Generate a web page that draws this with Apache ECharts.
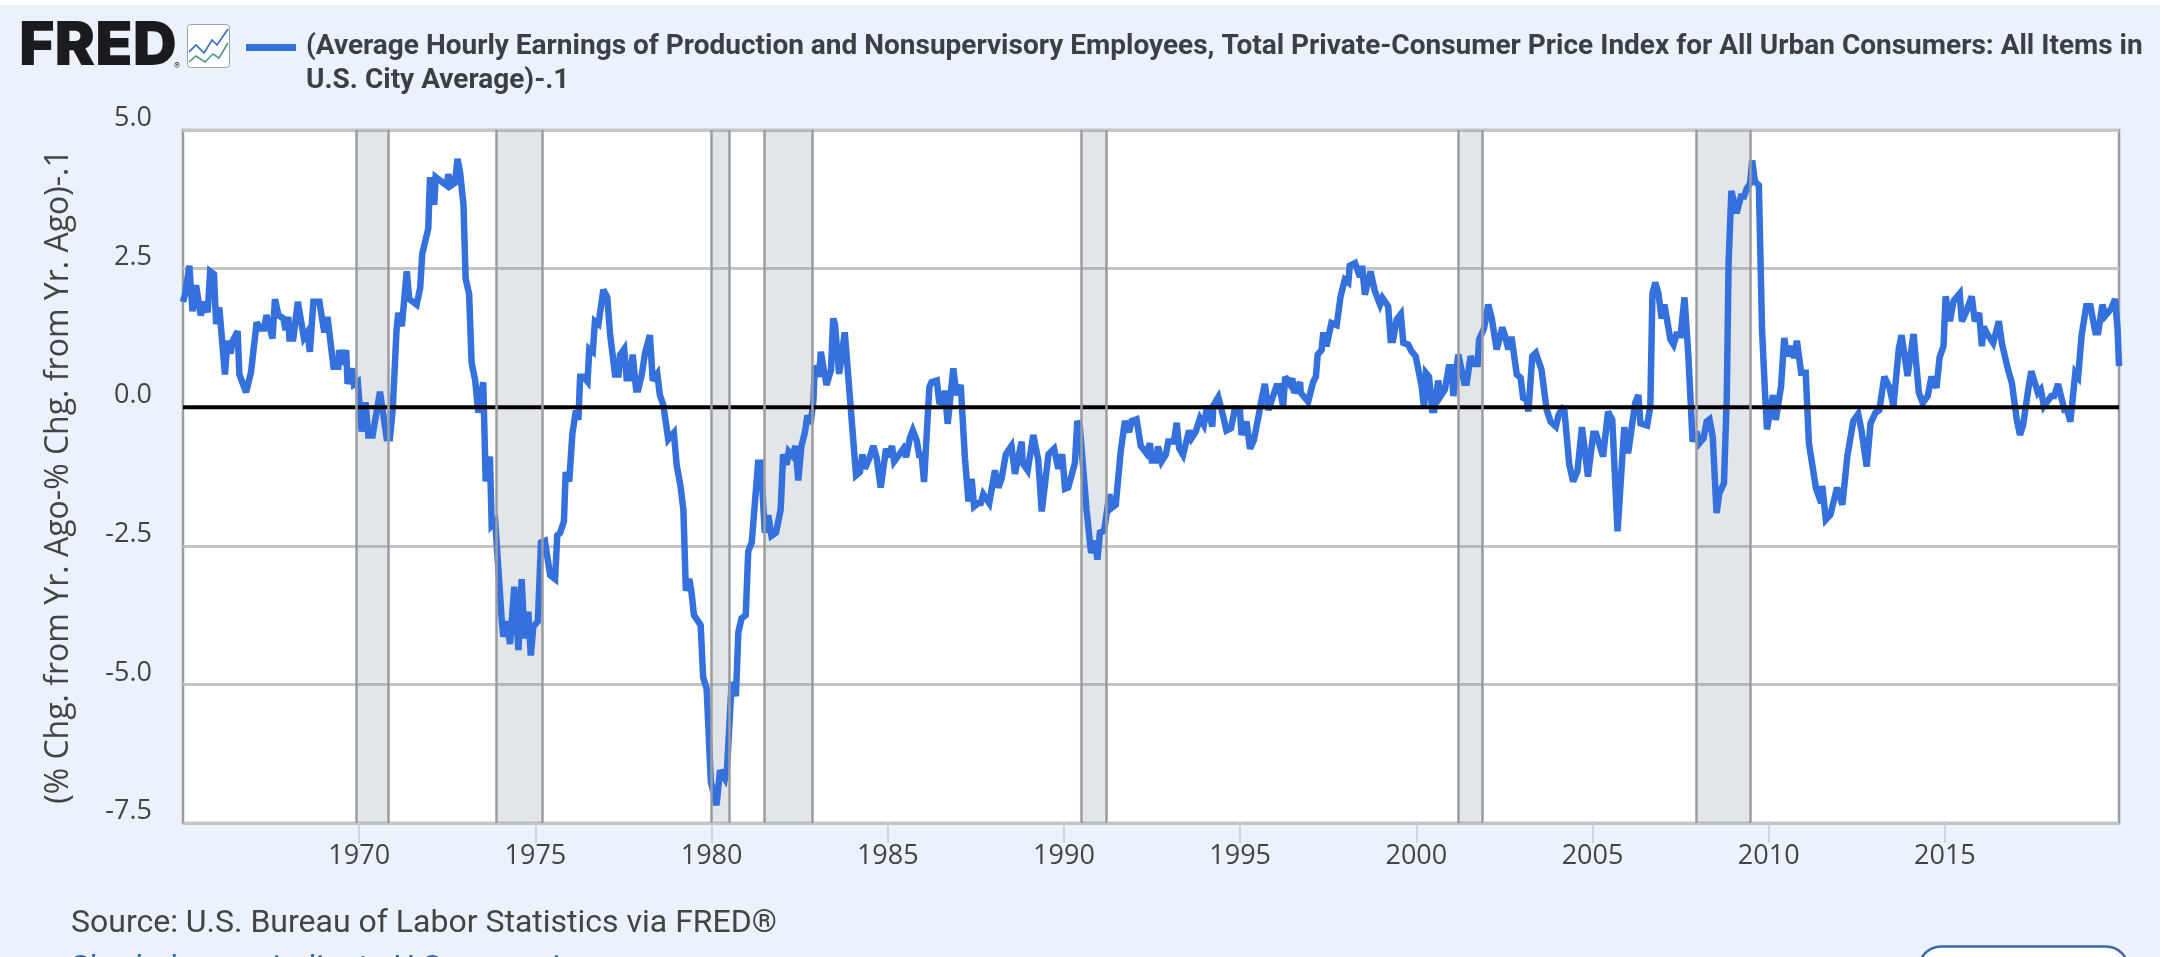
<!DOCTYPE html>
<html>
<head>
<meta charset="utf-8">
<title>Real earnings growth gap</title>
<script src="https://cdn.jsdelivr.net/npm/echarts@6/dist/echarts.min.js"></script>
<style>
html,body{margin:0;padding:0;background:#ebf2fb;overflow:hidden}
#chart{width:2160px;height:957px}
</style>
</head>
<body>
<div id="chart"></div>
<script>
// Wage growth minus CPI growth, minus 0.1, as [decimal year, percentage points]
const gap1960s = [[1965.0,1.9],[1965.06,2.04],[1965.18,2.55],[1965.27,1.73],[1965.37,2.2],[1965.5,1.66],[1965.62,1.9],[1965.7,1.71],[1965.77,2.45],[1965.88,2.4],[1965.94,1.5],[1966.03,1.8],[1966.19,0.59],[1966.26,1.2],[1966.35,0.97],[1966.41,1.2],[1966.55,1.37],[1966.6,0.59],[1966.79,0.27],[1966.93,0.63],[1967.09,1.53],[1967.2,1.42],[1967.3,1.42],[1967.37,1.66],[1967.54,1.24],[1967.61,1.95],[1967.71,1.66],[1967.85,1.6],[1967.91,1.39],[1967.99,1.63],[1968.02,1.24],[1968.13,1.24],[1968.26,1.9],[1968.43,1.25],[1968.53,1.35],[1968.6,1.0],[1968.7,1.9],[1968.87,1.9],[1969.01,1.35],[1969.1,1.63],[1969.15,1.6],[1969.27,0.73],[1969.41,0.73],[1969.43,1.03],[1969.53,0.77],[1969.63,1.03],[1969.67,0.42],[1969.79,0.7],[1969.85,0.41],[1969.96,0.46]];
const gap1970s = [[1970.07,-0.44],[1970.18,0.09],[1970.26,-0.51],[1970.38,-0.51],[1970.59,0.28],[1970.78,-0.56],[1970.87,-0.56],[1970.95,-0.06],[1971.06,1.39],[1971.11,1.7],[1971.21,1.46],[1971.35,2.45],[1971.42,1.95],[1971.63,1.85],[1971.73,2.15],[1971.79,2.77],[1971.96,3.22],[1972.01,4.15],[1972.13,3.65],[1972.17,4.15],[1972.48,4.0],[1972.53,4.2],[1972.61,4.0],[1972.72,4.05],[1972.79,4.48],[1972.86,4.25],[1972.96,3.65],[1973.02,2.32],[1973.12,2.04],[1973.19,0.8],[1973.29,0.49],[1973.38,-0.1],[1973.52,0.45],[1973.59,-1.34],[1973.71,-0.89],[1973.76,-2.13],[1973.86,-2.06],[1974.04,-3.79],[1974.09,-4.14],[1974.19,-3.86],[1974.28,-4.27],[1974.4,-3.24],[1974.52,-4.38],[1974.61,-3.1],[1974.69,-4.17],[1974.8,-3.69],[1974.87,-4.48],[1974.94,-3.96],[1975.07,-3.86],[1975.16,-2.44],[1975.27,-2.41],[1975.42,-3.03],[1975.56,-3.1],[1975.62,-2.31],[1975.7,-2.27],[1975.81,-2.06],[1975.86,-1.17],[1975.96,-1.34],[1976.05,-0.48],[1976.15,-0.06],[1976.22,-0.23],[1976.27,0.55],[1976.36,0.55],[1976.48,0.46],[1976.53,1.05],[1976.63,1.0],[1976.69,1.55],[1976.79,1.5],[1976.93,2.12],[1977.04,1.98],[1977.12,1.32],[1977.26,0.59],[1977.36,0.59],[1977.4,0.94],[1977.52,1.05],[1977.59,0.52],[1977.69,0.52],[1977.76,0.95],[1977.86,0.32],[1977.92,0.32],[1978.02,0.59],[1978.11,0.97],[1978.25,1.3],[1978.33,0.48],[1978.46,0.6],[1978.53,0.23],[1978.63,0.04],[1978.77,-0.58],[1978.93,-0.46],[1979.01,-1.05],[1979.12,-1.43],[1979.2,-1.85],[1979.27,-3.31],[1979.37,-3.1],[1979.43,-3.34],[1979.5,-3.75],[1979.69,-3.93],[1979.76,-4.87],[1979.86,-5.08],[1979.98,-6.76]];
const gap1980s = [[1980.14,-7.18],[1980.24,-6.55],[1980.38,-6.7],[1980.44,-6.5],[1980.57,-4.96],[1980.69,-5.21],[1980.76,-4.06],[1980.85,-3.81],[1980.97,-3.75],[1981.04,-2.6],[1981.14,-2.44],[1981.32,-1.0],[1981.4,-1.0],[1981.51,-2.26],[1981.61,-1.95],[1981.7,-2.32],[1981.83,-2.26],[1981.96,-1.85],[1982.03,-0.85],[1982.13,-1.04],[1982.19,-0.8],[1982.3,-0.88],[1982.38,-0.7],[1982.46,-1.32],[1982.55,-0.7],[1982.65,-0.45],[1982.72,-0.15],[1982.81,-0.3],[1982.89,0.11],[1982.93,0.75],[1983.05,0.55],[1983.1,1.0],[1983.26,0.4],[1983.39,0.67],[1983.45,1.6],[1983.5,1.5],[1983.62,0.6],[1983.78,1.35],[1983.93,0.14],[1984.1,-1.23],[1984.21,-1.17],[1984.28,-0.85],[1984.35,-1.11],[1984.49,-0.9],[1984.59,-0.7],[1984.68,-0.9],[1984.8,-1.45],[1984.95,-0.75],[1985.02,-0.9],[1985.12,-0.7],[1985.18,-0.98],[1985.44,-0.75],[1985.52,-0.9],[1985.63,-0.55],[1985.71,-0.42],[1985.82,-0.6],[1985.89,-0.86],[1985.96,-0.86],[1986.03,-1.35],[1986.18,0.36],[1986.24,0.45],[1986.39,0.48],[1986.46,0.1],[1986.58,0.08],[1986.62,0.3],[1986.7,-0.3],[1986.86,0.7],[1986.95,0.22],[1987.07,0.4],[1987.19,-0.92],[1987.29,-1.7],[1987.38,-1.29],[1987.45,-1.79],[1987.57,-1.73],[1987.64,-1.73],[1987.71,-1.57],[1987.88,-1.73],[1988.04,-1.14],[1988.14,-1.45],[1988.23,-1.29],[1988.35,-0.85],[1988.51,-0.7],[1988.61,-1.2],[1988.8,-0.62],[1988.83,-1.01],[1988.97,-1.14],[1989.13,-0.5],[1989.27,-0.95],[1989.37,-1.88],[1989.56,-0.85],[1989.72,-0.75],[1989.84,-1.11],[1989.95,-0.85]];
const gap1990s = [[1990.03,-1.47],[1990.12,-1.45],[1990.31,-1.01],[1990.38,-0.25],[1990.45,-0.35],[1990.64,-1.85],[1990.77,-2.63],[1990.88,-2.41],[1990.95,-2.75],[1991.02,-2.26],[1991.14,-2.23],[1991.29,-1.57],[1991.35,-1.82],[1991.47,-1.76],[1991.61,-0.8],[1991.73,-0.25],[1991.85,-0.45],[1991.92,-0.25],[1992.06,-0.22],[1992.18,-0.7],[1992.34,-0.83],[1992.44,-0.65],[1992.49,-0.96],[1992.61,-0.96],[1992.67,-0.71],[1992.77,-0.98],[1992.89,-0.86],[1992.96,-0.62],[1993.12,-0.62],[1993.2,-0.28],[1993.27,-0.74],[1993.38,-0.86],[1993.55,-0.42],[1993.62,-0.56],[1993.74,-0.44],[1993.86,-0.2],[1993.97,-0.32],[1994.07,0.03],[1994.21,-0.35],[1994.24,0.03],[1994.38,0.18],[1994.52,-0.17],[1994.61,-0.42],[1994.74,-0.38],[1994.85,-0.03],[1994.99,-0.03],[1995.04,-0.5],[1995.18,-0.26],[1995.28,-0.75],[1995.39,-0.59],[1995.51,-0.2],[1995.61,0.14],[1995.7,0.42],[1995.8,-0.05],[1996.03,0.38],[1996.11,0.38],[1996.22,0.02],[1996.28,0.55],[1996.41,0.42],[1996.48,0.52],[1996.53,0.26],[1996.7,0.45],[1996.72,0.26],[1996.93,0.1],[1997.07,0.45],[1997.15,0.55],[1997.2,0.95],[1997.31,1.03],[1997.36,1.35],[1997.45,1.1],[1997.59,1.52],[1997.74,1.48],[1997.85,2.0],[1997.97,2.3],[1998.07,2.25],[1998.11,2.55],[1998.26,2.6],[1998.4,2.35],[1998.46,2.55],[1998.54,2.03],[1998.7,2.45],[1998.82,2.1],[1998.97,1.85],[1999.04,1.97],[1999.2,1.82],[1999.27,1.21],[1999.34,1.21],[1999.44,1.58],[1999.56,1.68],[1999.63,1.16],[1999.77,1.13],[1999.86,1.01],[1999.98,0.92]];
const gap2000s = [[2000.15,0.38],[2000.22,-0.02],[2000.27,0.62],[2000.36,0.55],[2000.45,-0.05],[2000.51,-0.05],[2000.62,0.48],[2000.69,0.2],[2000.81,0.32],[2000.92,0.72],[2001.0,0.72],[2001.05,0.2],[2001.1,0.2],[2001.19,0.95],[2001.36,0.44],[2001.43,0.44],[2001.54,0.92],[2001.62,0.78],[2001.74,0.78],[2001.78,1.22],[2001.92,1.42],[2002.04,1.85],[2002.14,1.6],[2002.28,1.04],[2002.33,1.04],[2002.44,1.44],[2002.51,1.3],[2002.61,1.04],[2002.7,1.27],[2002.85,0.59],[2002.96,0.53],[2003.03,0.17],[2003.13,0.14],[2003.18,-0.08],[2003.22,-0.08],[2003.29,0.92],[2003.39,0.98],[2003.55,0.68],[2003.7,-0.05],[2003.81,-0.26],[2003.96,-0.35],[2004.04,-0.13],[2004.19,0.02],[2004.34,-1.04],[2004.45,-1.34],[2004.57,-1.16],[2004.7,-0.36],[2004.87,-1.25],[2005.02,-0.48],[2005.1,-0.48],[2005.3,-0.89],[2005.44,-0.08],[2005.56,-0.23],[2005.71,-2.24],[2005.9,-0.36],[2006.01,-0.83],[2006.21,0.08],[2006.3,0.22],[2006.36,-0.29],[2006.55,-0.33],[2006.64,0.02],[2006.7,2.05],[2006.78,2.25],[2006.87,2.05],[2006.96,1.6],[2007.04,1.85],[2007.21,1.22],[2007.3,1.13],[2007.38,1.31],[2007.5,1.3],[2007.61,1.98],[2007.72,0.92],[2007.84,-0.62],[2007.95,-0.44],[2008.03,-0.65],[2008.15,-0.56],[2008.24,-0.26],[2008.32,-0.22],[2008.41,-0.53],[2008.52,-1.91],[2008.6,-1.55],[2008.73,-1.37],[2008.81,0.2],[2008.86,2.6],[2008.94,3.9],[2009.09,3.5],[2009.21,3.8],[2009.3,3.8],[2009.38,3.95],[2009.47,4.03],[2009.53,4.45],[2009.61,4.07],[2009.72,4.0],[2009.81,1.4],[2009.89,0.32],[2009.95,-0.4]];
const gap2010s = [[2010.12,0.22],[2010.2,-0.23],[2010.35,0.38],[2010.44,1.25],[2010.52,0.92],[2010.63,1.1],[2010.72,0.89],[2010.8,1.2],[2010.92,0.62],[2011.05,0.62],[2011.14,-0.65],[2011.34,-1.46],[2011.49,-1.73],[2011.52,-1.42],[2011.62,-2.03],[2011.75,-1.94],[2011.94,-1.45],[2012.09,-1.76],[2012.23,-0.89],[2012.4,-0.25],[2012.54,-0.12],[2012.63,-0.41],[2012.78,-1.07],[2012.89,-0.29],[2013.03,-0.1],[2013.14,-0.05],[2013.28,0.55],[2013.43,0.35],[2013.54,0.02],[2013.69,1.05],[2013.77,1.3],[2013.94,0.56],[2014.11,1.32],[2014.26,0.26],[2014.37,0.08],[2014.51,0.2],[2014.62,0.55],[2014.76,0.35],[2014.85,0.9],[2014.96,1.1],[2015.02,2.0],[2015.14,1.55],[2015.25,1.92],[2015.42,2.05],[2015.48,1.55],[2015.59,1.7],[2015.76,2.0],[2015.85,1.55],[2015.97,1.7],[2016.05,1.1],[2016.1,1.45],[2016.22,1.3],[2016.37,1.16],[2016.53,1.55],[2016.62,1.14],[2016.79,0.68],[2016.9,0.44],[2017.04,-0.23],[2017.13,-0.5],[2017.22,-0.32],[2017.36,0.3],[2017.45,0.65],[2017.64,0.26],[2017.72,0.32],[2017.81,0.02],[2018.02,0.2],[2018.1,0.2],[2018.21,0.42],[2018.39,-0.05],[2018.47,-0.05],[2018.56,-0.26],[2018.7,0.62],[2018.78,0.55],[2018.88,1.3],[2019.01,1.82],[2019.13,1.82],[2019.27,1.35],[2019.35,1.35],[2019.47,1.85],[2019.55,1.65],[2019.72,1.78],[2019.83,1.95],[2019.9,1.4],[2019.94,0.74]];

// NBER recession spans, start and end in decimal years
const recessions = [[1969.92,1970.83],[1973.88,1975.2],[1980.0,1980.5],[1981.5,1982.87],[1990.5,1991.2],[2001.2,2001.87],[2007.95,2009.48]];
const yearTicks = [1970,1975,1980,1985,1990,1995,2000,2005,2010,2015];
const zeroLine = [[1965,0],[2019.94,0]];

const legendLines = ['(Average Hourly Earnings of Production and Nonsupervisory Employees, Total Private-Consumer Price Index for All Urban Consumers: All Items in','U.S. City Average)-.1'];
const yAxisTitle = '(% Chg. from Yr. Ago-% Chg. from Yr. Ago)-.1';
const sourceText = 'Source: U.S. Bureau of Labor Statistics via FRED®';
const noteText = 'Shaded areas indicate U.S. recessions';

const LINE_BLUE = '#3571dd';
const chart = echarts.init(document.getElementById('chart'), null, {renderer:'canvas'});
chart.setOption({
  animation:false,
  backgroundColor:'#ebf2fb',
  grid:{left:183,right:41,top:130,bottom:134,show:true,backgroundColor:'#fff',borderColor:'#9c9c9f',borderWidth:2.5},
  xAxis:{
    type:'value',min:1965,max:2019.94,
    axisLine:{show:false,onZero:false},
    axisTick:{show:true,length:20,lineStyle:{color:'#cfd5e0',width:2},customValues:yearTicks},
    axisLabel:{customValues:yearTicks,formatter:v=>String(v),color:'#444',fontFamily:'Open Sans',fontSize:27,margin:20},
    splitLine:{show:false}
  },
  yAxis:{
    type:'value',min:-7.5,max:5,interval:2.5,
    name:yAxisTitle,nameLocation:'middle',nameGap:108,nameRotate:90,
    nameTextStyle:{color:'#444',fontFamily:'Open Sans',fontSize:32},
    axisLine:{show:false},axisTick:{show:false},
    axisLabel:{formatter:v=>v.toFixed(1),color:'#444',fontFamily:'Open Sans',fontSize:27,margin:31,verticalAlign:'bottom',lineHeight:23},
    splitLine:{show:true,lineStyle:{color:'#c4c4c4',width:3}}
  },
  series:[
    {type:'line',name:'Recessions',data:[],z:1,silent:true,
     markArea:{silent:true,itemStyle:{color:'rgba(135,145,165,0.24)'},
       data:recessions.map(r=>[{xAxis:r[0]},{xAxis:r[1]}])},
     markLine:{silent:true,symbol:'none',label:{show:false},
       lineStyle:{color:'#9c9c9f',width:2.5,type:'solid'},
       data:recessions.flat().map(edge=>({xAxis:edge}))}},
    {type:'line',name:'Real earnings gap',
     data:[].concat(gap1960s,gap1970s,gap1980s,gap1990s,gap2000s,gap2010s),
     showSymbol:false,z:3,
     lineStyle:{color:LINE_BLUE,width:6.5,join:'miter',miterLimit:3}},
    {type:'line',name:'Zero',data:zeroLine,showSymbol:false,z:4,lineStyle:{color:'#000',width:4}}
  ],
  graphic:[
    {type:'rect',shape:{x:0,y:0,width:2160,height:5},style:{fill:'#fff'},silent:true},
    {type:'text',x:19,y:47,style:{text:'FRED',font:'900 61px Inter',fill:'#1b1b1f',verticalAlign:'middle'}},
    {type:'text',x:174,y:66,style:{text:'®',font:'400 9px Inter',fill:'#333',verticalAlign:'middle'}},
    {type:'rect',shape:{x:187.5,y:24.5,width:42,height:43,r:3},style:{fill:'#fff',stroke:'#9ea3a8',lineWidth:1}},
    {type:'polyline',shape:{points:[[189,52],[196,45],[204,53],[212,40],[217,45],[228,29]]},style:{stroke:'#2f6fc0',fill:null,lineWidth:1.6}},
    {type:'polyline',shape:{points:[[189,62],[196,56],[205,62],[213,54],[219,58],[228,43]]},style:{stroke:'#4f9a8a',fill:null,lineWidth:1.6}},
    {type:'rect',shape:{x:246,y:44,width:50,height:7},style:{fill:LINE_BLUE}},
    {type:'text',x:306,y:47,style:{text:legendLines[0],font:'700 28px Roboto',fill:'#3d3f45',verticalAlign:'middle'}},
    {type:'text',x:306,y:81,style:{text:legendLines[1],font:'700 28px Roboto',fill:'#3d3f45',verticalAlign:'middle'}},
    {type:'text',x:71,y:924,style:{text:sourceText,font:'400 32px Roboto',fill:'#444',verticalAlign:'middle'}},
    {type:'text',x:71,y:969,style:{text:noteText,font:'400 32px Roboto',fill:'#3367ae',verticalAlign:'middle'}},
    {type:'rect',shape:{x:1919,y:946.5,width:209,height:50,r:22},style:{fill:'#fff',stroke:'#3a68a8',lineWidth:2.5}}
  ]
});
</script>
</body>
</html>
